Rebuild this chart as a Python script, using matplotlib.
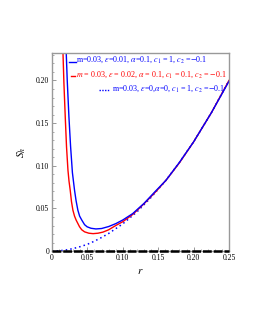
import matplotlib
matplotlib.use("Agg")
import matplotlib.pyplot as plt
from matplotlib.lines import Line2D
from matplotlib.ticker import MultipleLocator, FixedLocator

plt.rcParams['font.family'] = ['Liberation Serif', 'DejaVu Serif']
plt.rcParams['mathtext.fontset'] = 'stix'

# values
r_blue = [0.0201, 0.0215, 0.0239, 0.0262, 0.0288, 0.0318, 0.034, 0.0365, 0.039, 0.0421,
          0.046, 0.0496, 0.055, 0.062, 0.070, 0.080, 0.090, 0.100, 0.114, 0.130,
          0.1475, 0.161, 0.180, 0.200, 0.225, 0.25]
s_blue = [0.232, 0.200, 0.157, 0.123, 0.092, 0.0714, 0.059, 0.048, 0.041, 0.0363,
          0.031, 0.0285, 0.0268, 0.026, 0.0265, 0.0288, 0.0322, 0.0365, 0.044, 0.056,
          0.0714, 0.083, 0.104, 0.128, 0.162, 0.199]

r_red = [0.0155, 0.0168, 0.0187, 0.0205, 0.0225, 0.024, 0.0257, 0.0275, 0.0295, 0.0318,
         0.0341, 0.0389, 0.042, 0.046, 0.052, 0.058, 0.065, 0.072, 0.080, 0.090,
         0.100, 0.114, 0.130, 0.1475, 0.161, 0.180, 0.200, 0.225, 0.25]
s_red = [0.232, 0.197, 0.157, 0.122, 0.095, 0.082, 0.0714, 0.058, 0.048, 0.041,
         0.0363, 0.0285, 0.025, 0.0226, 0.021, 0.0205, 0.021, 0.0223, 0.025, 0.030,
         0.0345, 0.043, 0.0555, 0.0705, 0.083, 0.1035, 0.128, 0.162, 0.200]

r_dot = [0.0, 0.01, 0.02, 0.03, 0.04, 0.05, 0.06, 0.07, 0.08, 0.10, 0.12, 0.14,
         0.16, 0.18, 0.20, 0.225, 0.25]
s_dot = [0.0, 0.0004, 0.0014, 0.003, 0.0053, 0.008, 0.0117, 0.016, 0.0207, 0.032,
         0.046, 0.063, 0.082, 0.104, 0.128, 0.162, 0.200]

r_zero = [0.0, 0.25]
s_zero = [0.0, 0.0]

labels = [r"m=0.03, $\epsilon$=0.01, $\alpha$=0.1, $c_1$ = 1, $c_2$ =$-$0.1",
          r"$m$ = 0.03, $\epsilon$ = 0.02, $\alpha$ = 0.1, $c_1$ = 0.1, $c_2$ = $-$0.1",
          r"m=0.03, $\epsilon$=0,$\alpha$=0, $c_1$ = 1, $c_2$ =$-$0.1"]
xticks = [0, 0.05, 0.10, 0.15, 0.20, 0.25]
xtick_labels = ["0", "0.05", "0.10", "0.15", "0.20", "0.25"]
yticks = [0, 0.05, 0.10, 0.15, 0.20]
ytick_labels = ["0", "0.05", "0.10", "0.15", "0.20"]

fig = plt.figure(figsize=(2.55, 3.30), dpi=100)
ax = fig.add_axes([0.204, 0.239, 0.694, 0.600])

ax.plot(r_zero, s_zero, color='black', lw=1.8, dashes=(3.5, 0.8), clip_on=False, zorder=3)
ax.plot(r_dot, s_dot, color='blue', lw=1.1, ls=(0, (1, 2)))
ax.plot(r_red, s_red, color='red', lw=1.0)
ax.plot(r_blue, s_blue, color='blue', lw=1.0)

ax.set_xlim(0, 0.25)
ax.set_ylim(0, 0.232)
ax.xaxis.set_major_locator(FixedLocator(xticks))
ax.set_xticklabels(xtick_labels)
ax.yaxis.set_major_locator(FixedLocator(yticks))
ax.set_yticklabels(ytick_labels)
ax.xaxis.set_minor_locator(MultipleLocator(0.01))
ax.yaxis.set_minor_locator(MultipleLocator(0.01))
ax.tick_params(which='both', direction='in', colors='#888888', labelcolor='black',
               labelsize=5.5, pad=2)
ax.tick_params(which='major', length=3, width=0.6)
ax.tick_params(which='minor', length=1.6, width=0.5)
for sp in ax.spines.values():
    sp.set_color('#999999')
    sp.set_linewidth(1.0)

ax.set_xlabel(r"$r$", fontsize=8, labelpad=4)
ax.set_ylabel(r"$S_h$", fontsize=8, labelpad=6)

# legend entries drawn as text with short line samples
tr = ax.transAxes
ax.add_line(Line2D([0.095, 0.135], [0.955, 0.955], color='blue', lw=1.0, transform=tr))
ax.text(0.138, 0.965, labels[0], color='blue', fontsize=5.8, transform=tr, va='center')
ax.add_line(Line2D([0.108, 0.132], [0.885, 0.885], color='red', lw=1.0, transform=tr))
ax.text(0.135, 0.893, labels[1], color='red', fontsize=5.8, transform=tr, va='center')
ax.add_line(Line2D([0.265, 0.33], [0.815, 0.815], color='blue', lw=1.0, ls=(0, (1, 1)), transform=tr))
ax.text(0.34, 0.818, labels[2], color='blue', fontsize=5.8, transform=tr, va='center')

fig.savefig("out.png", dpi=100)
